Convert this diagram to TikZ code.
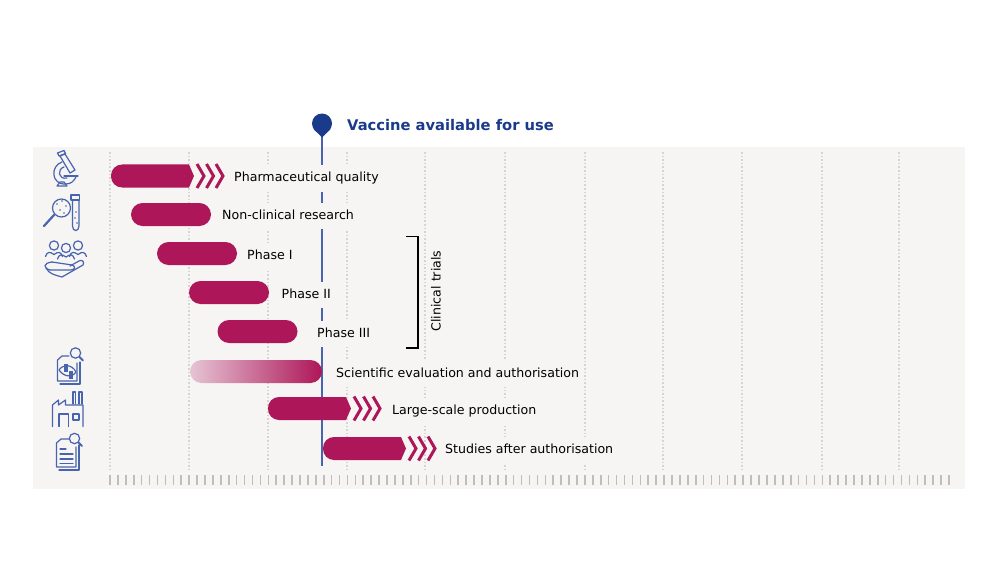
\documentclass[tikz,border=0pt]{standalone}
\usepackage{fontspec}
\usepackage{xcolor}
\usetikzlibrary{shapes.misc}
\setmainfont{DejaVu Sans}
\definecolor{panelgrey}{RGB}{246,245,243}
\definecolor{barred}{RGB}{173,22,88}
\definecolor{barpale}{RGB}{230,196,213}
\definecolor{barmid}{RGB}{210,145,175}
\definecolor{pinblue}{RGB}{26,58,138}
\definecolor{iconblue}{RGB}{72,100,174}
\definecolor{griddot}{RGB}{212,212,210}
\definecolor{tickgrey}{RGB}{190,190,188}

\begin{document}
\begin{tikzpicture}[x=1pt,y=-1pt,
    bar/.style={rounded rectangle,fill=barred,minimum width=80pt,minimum height=23pt,inner sep=0pt},
    phase/.style={anchor=west,fill=panelgrey,font=\fontsize{12.6}{15}\selectfont,inner xsep=3pt,inner ysep=6.5pt,text height=10pt,text depth=3pt},
    icon/.style={draw=iconblue,line width=1.2pt,line join=round,line cap=round}]
    \useasboundingbox (0,0) rectangle (1000,572);

    % Panel, grid and ticks
    \fill[panelgrey] (33,147) rectangle (965,489);
    \foreach \gx in {110,189,268,347,425,505,585,663,742,822,899}
        \draw[griddot,line width=1.8pt,dash pattern=on 1.6pt off 2pt] (\gx,152) -- (\gx,470);
    \foreach \tk in {0,...,106}
        \draw[tickgrey,line width=1.6pt] (110+\tk*7.915,475) -- (110+\tk*7.915,485);

    % Marker for the approval date
    \coordinate (pinbase) at (322,135);
    \coordinate (lineend) at (322,466);
    \draw[iconblue,line width=1.6pt] (pinbase) -- (lineend);
    \fill[pinblue] (322,123.5) circle[radius=10];
    \fill[pinblue] (313.5,129) -- (322,137.5) -- (330.5,129) -- cycle;
    \node[anchor=west,text=pinblue,font=\fontsize{14.7}{17}\selectfont\bfseries,inner sep=0pt] (available) at (347,125) {Vaccine available for use};

    % Labels
    \node[phase] (quality) at (231,178.5) {Pharmaceutical quality};
    \node[phase] (nonclinical) at (219,215.5) {Non-clinical research};
    \node[phase] (phaseone) at (244,255.5) {Phase I};
    \node[phase] (phasetwo) at (278.5,294.5) {Phase II};
    \node[phase] (phasethree) at (314,333.5) {Phase III};
    \node[phase] (evaluation) at (333,373.5) {Scientific evaluation and authorisation};
    \node[phase] (production) at (389,410.5) {Large-scale production};
    \node[phase] (studies) at (442,449.5) {Studies after authorisation};

    % Plain bars
    \node[bar] (barnonclinical) at (171,214.5) {};
    \node[bar] (barphaseone) at (197,253.5) {};
    \node[bar] (barphasetwo) at (229,292.5) {};
    \node[bar] (barphasethree) at (257.5,331.5) {};
    \node[bar,minimum width=132pt,fill=none,left color=barpale,middle color=barmid,right color=barred] (barevaluation) at (256,371.5) {};

    % Bars that go on
    \foreach \bx/\by in {111/176,268/408.5,323/448.5} {
        \fill[barred,rounded corners=11pt] (\bx+40,\by-11.5) -- (\bx,\by-11.5) -- (\bx,\by+11.5) -- (\bx+40,\by+11.5)
            [sharp corners] -- (\bx+78,\by+11.5) -- (\bx+83,\by) -- (\bx+78,\by-11.5) -- cycle;
        \foreach \cn in {0,1,2}
            \draw[barred,line width=3pt] (\bx+86+\cn*9.5,\by-12) -- (\bx+93+\cn*9.5,\by) -- (\bx+86+\cn*9.5,\by+12);
    }

    % Clinical trials bracket
    \draw[black,line width=1.4pt] (406,236.5) -- (418,236.5) -- (418,348) -- (406,348);
    \node[rotate=90,font=\fontsize{12.6}{15}\selectfont,inner sep=0pt] (clinical) at (436,291) {Clinical trials};

    % Microscope
    \draw[icon] (57.5,153) -- (64,150.5) -- (65.5,153.5) -- (59,156) -- cycle;
    \draw[icon] (60,156) -- (65,154) -- (75,170) -- (70,173) -- cycle;
    \draw[icon] (62,162) .. controls (50,166) and (51,185) .. (66,184) .. controls (71,184) and (74,181) .. (76,177);
    \draw[icon] (64,167) .. controls (57,169) and (58,180) .. (67,178);
    \draw[icon] (64,176) -- (78,176);
    \draw[icon] (57,186) -- (67,186) -- (64,182) -- (60,182) -- cycle;

    % Magnifier and test tube
    \draw[icon] (61.5,208) circle[radius=9];
    \draw[icon,line width=2.2pt] (54,215) -- (44,226);
    \foreach \dx/\dy in {57/204,62/201,66/206,60/210,64/213}
        \fill[iconblue] (\dx,\dy) circle[radius=0.9];
    \draw[icon] (71,195) rectangle (79.5,200);
    \draw[icon] (72.5,200) -- (72.5,226) .. controls (72.5,232) and (79,232) .. (79,226) -- (79,200);
    \foreach \dx/\dy in {76/212,75/218,77/223}
        \fill[iconblue] (\dx,\dy) circle[radius=0.8];

    % People and hand
    \foreach \hx/\hy in {54/245.5,66/248,78/245.5} {
        \draw[icon] (\hx,\hy) circle[radius=4.6];
        \draw[icon] (\hx-8.5,\hy+11) .. controls (\hx-7,\hy+6) and (\hx-4,\hy+6) .. (\hx,\hy+9) .. controls (\hx+4,\hy+6) and (\hx+7,\hy+6) .. (\hx+8.5,\hy+11);
    }
    \draw[icon] (52,262) -- (72,265) .. controls (76,266) and (75,270) .. (71,270) -- (50,270);
    \draw[icon] (52,262) .. controls (43,263) and (43,268) .. (50,270);
    \draw[icon] (46,268) .. controls (49,274) and (55,275) .. (62,277) -- (83,265) .. controls (85,262) and (82,259) .. (79,261) -- (70,266);

    % Document with eye
    \draw[icon] (69,356) -- (62,356) -- (57.5,360) -- (57.5,381) -- (77,381) -- (77,363);
    \draw[icon] (80,362) -- (80,384) -- (60,384);
    \draw[icon] (75.5,353) circle[radius=5.2];
    \draw[icon,line width=1.8pt] (79.5,357) -- (83,360.5);
    \draw[icon] (59,370) .. controls (63,364) and (72,364) .. (76,372) .. controls (72,378) and (64,377) .. (59,370);
    \fill[iconblue] (64,364) rectangle (68,372);
    \fill[iconblue] (69,371) rectangle (73,379);

    % Factory
    \draw[icon] (52.5,426.5) -- (52.5,405) -- (58.5,400) -- (58.5,405) -- (65.5,400) -- (65.5,405) -- (83,405) -- (83,426.5);
    \draw[icon] (73,404) -- (73,392) -- (75.5,392) -- (75.5,404);
    \draw[icon] (79,404) -- (79,392) -- (82,392) -- (82,404);
    \draw[icon] (59,426.5) -- (59,414) -- (68.5,414) -- (68.5,426.5);
    \draw[icon] (73,414) rectangle (79,420);

    % Document after authorisation
    \draw[icon] (69,439) -- (61,439) -- (56.5,443) -- (56.5,467) -- (76,467) -- (76,447);
    \draw[icon] (79,445) -- (79,470) -- (59,470);
    \draw[icon] (74.5,438.5) circle[radius=5.2];
    \draw[icon,line width=1.8pt] (78.5,442.5) -- (82,446);
    \draw[icon,line width=1.2pt] (60,449) -- (66,449);
    \foreach \ly in {454,459,463.5}
        \draw[icon,line width=1.2pt] (60,\ly) -- (73,\ly);
\end{tikzpicture}
\end{document}
